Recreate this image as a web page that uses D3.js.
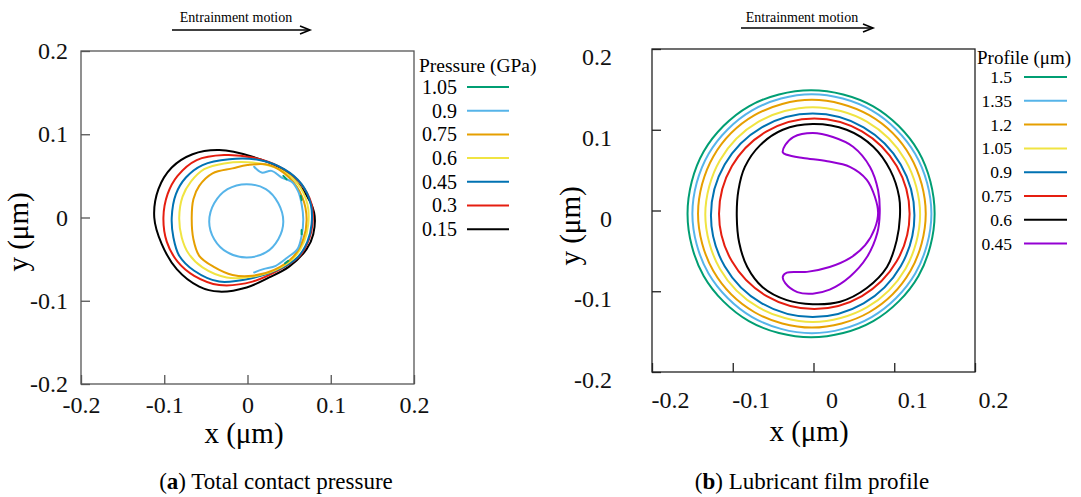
<!DOCTYPE html>
<html>
<head>
<meta charset="utf-8">
<script src="https://cdn.jsdelivr.net/npm/d3@7"></script>
<style>
  body { margin: 0; background: #fff; }
  svg { display: block; }
</style>
</head>
<body>
<svg id="chart" width="1081" height="497"></svg>
<script>
// ---- data ----
const axisTicks = [-0.2, -0.1, 0, 0.1, 0.2]

const pressureLevels = ["1.05", "0.9", "0.75", "0.6", "0.45", "0.3", "0.15"]
const profileLevels = ["1.5", "1.35", "1.2", "1.05", "0.9", "0.75", "0.6", "0.45"]

// (a) contact pressure contours, x,y in um
const p015 = [[-0.112,0.000],[-0.107,0.034],[-0.091,0.060],[-0.066,0.076],[-0.034,0.081],[0.006,0.073],[0.042,0.058],[0.066,0.034],[0.080,0.006],[0.079,-0.020],[0.071,-0.038],[0.050,-0.059],[0.026,-0.072],[-0.001,-0.084],[-0.034,-0.089],[-0.058,-0.083],[-0.085,-0.062],[-0.103,-0.032]]
const p030 = [[-0.101,0.000],[-0.096,0.028],[-0.084,0.050],[-0.061,0.069],[-0.028,0.075],[0.006,0.072],[0.038,0.061],[0.062,0.043],[0.077,0.016],[0.078,-0.008],[0.074,-0.026],[0.062,-0.047],[0.038,-0.063],[0.006,-0.077],[-0.034,-0.081],[-0.064,-0.070],[-0.084,-0.053],[-0.097,-0.029]]
const p045 = [[-0.091,0.000],[-0.086,0.028],[-0.074,0.048],[-0.054,0.063],[-0.022,0.070],[0.014,0.069],[0.044,0.058],[0.065,0.040],[0.076,0.016],[0.077,-0.008],[0.072,-0.029],[0.060,-0.048],[0.036,-0.063],[0.005,-0.073],[-0.034,-0.077],[-0.064,-0.064],[-0.082,-0.046],[-0.089,-0.024]]
const p060 = [[-0.082,0.000],[-0.078,0.025],[-0.068,0.043],[-0.052,0.058],[-0.028,0.065],[0.006,0.066],[0.038,0.058],[0.060,0.041],[0.072,0.016],[0.073,-0.008],[0.068,-0.029],[0.056,-0.048],[0.034,-0.063],[0.006,-0.071],[-0.025,-0.072],[-0.054,-0.060],[-0.071,-0.043],[-0.079,-0.024]]
const p075 = [[-0.067,0.000],[-0.065,0.022],[-0.058,0.038],[-0.042,0.053],[-0.018,0.059],[0.000,0.063],[0.026,0.063],[0.050,0.048],[0.066,0.024],[0.071,-0.002],[0.067,-0.026],[0.055,-0.047],[0.032,-0.063],[0.006,-0.070],[-0.018,-0.069],[-0.041,-0.059],[-0.058,-0.046],[-0.065,-0.026]]
const p090inner = [[0.043,-0.005],[0.037,0.017],[0.022,0.034],[-0.001,0.040],[-0.024,0.034],[-0.040,0.017],[-0.046,-0.005],[-0.040,-0.026],[-0.024,-0.042],[-0.001,-0.048],[0.022,-0.042],[0.037,-0.026]]
const p090outer = [[0.008,0.061],[0.017,0.054],[0.029,0.056],[0.041,0.048],[0.053,0.043],[0.061,0.031],[0.065,0.016],[0.067,-0.002],[0.065,-0.022],[0.060,-0.038],[0.048,-0.048],[0.034,-0.058],[0.019,-0.062],[0.008,-0.066]]
const p105a = [[0.043,0.050],[0.047,0.046]]
const p105b = [[0.064,0.026],[0.065,0.021]]
const p105c = [[0.065,-0.015],[0.065,-0.020]]
const p105d = [[0.045,-0.055],[0.049,-0.052]]

// (b) film profile contours, x,y in um
const h150 = [[0.150,-0.004],[0.130,0.073],[0.074,0.129],[-0.003,0.149],[-0.080,0.129],[-0.136,0.073],[-0.156,-0.004],[-0.136,-0.081],[-0.080,-0.137],[-0.003,-0.157],[0.074,-0.137],[0.130,-0.081]]
const h135 = [[0.146,-0.004],[0.126,0.070],[0.072,0.124],[-0.002,0.144],[-0.076,0.124],[-0.130,0.070],[-0.150,-0.004],[-0.130,-0.078],[-0.076,-0.132],[-0.002,-0.152],[0.072,-0.132],[0.126,-0.078]]
const h120 = [[0.139,-0.004],[0.120,0.067],[0.069,0.118],[-0.002,0.137],[-0.073,0.118],[-0.124,0.067],[-0.143,-0.004],[-0.124,-0.075],[-0.073,-0.126],[-0.002,-0.145],[0.069,-0.126],[0.120,-0.075]]
const h105 = [[0.132,-0.005],[0.114,0.062],[0.066,0.110],[-0.001,0.128],[-0.068,0.110],[-0.116,0.062],[-0.134,-0.005],[-0.116,-0.072],[-0.068,-0.120],[-0.001,-0.138],[0.066,-0.120],[0.114,-0.072]]
const h090 = [[0.125,-0.006],[0.108,0.057],[0.062,0.103],[-0.001,0.120],[-0.064,0.103],[-0.110,0.057],[-0.127,-0.006],[-0.110,-0.069],[-0.064,-0.115],[-0.001,-0.132],[0.062,-0.115],[0.108,-0.069]]
const h075 = [[0.119,-0.004],[0.103,0.055],[0.060,0.098],[0.001,0.114],[-0.058,0.098],[-0.101,0.055],[-0.117,-0.004],[-0.101,-0.063],[-0.058,-0.106],[0.001,-0.122],[0.060,-0.106],[0.103,-0.063]]
const h060 = [[-0.001,0.107],[0.041,0.100],[0.074,0.079],[0.095,0.050],[0.106,0.017],[0.107,-0.008],[0.103,-0.037],[0.091,-0.070],[0.066,-0.096],[0.033,-0.113],[-0.001,-0.116],[-0.033,-0.111],[-0.063,-0.095],[-0.082,-0.070],[-0.092,-0.040],[-0.095,-0.008],[-0.093,0.025],[-0.085,0.054],[-0.066,0.081],[-0.038,0.100]]
const h045 = [[-0.038,0.072],[-0.035,0.081],[-0.025,0.091],[-0.001,0.096],[0.024,0.091],[0.049,0.079],[0.070,0.054],[0.080,0.025],[0.082,-0.003],[0.079,-0.028],[0.066,-0.058],[0.045,-0.082],[0.020,-0.098],[-0.001,-0.103],[-0.020,-0.101],[-0.035,-0.090],[-0.038,-0.082],[-0.033,-0.077],[-0.008,-0.076],[0.020,-0.070],[0.045,-0.059],[0.064,-0.043],[0.076,-0.022],[0.080,-0.003],[0.076,0.017],[0.066,0.038],[0.045,0.054],[0.017,0.061],[-0.013,0.065],[-0.033,0.069]]

// colours (gnuplot-like)
const pressureColors = ["#009e73", "#56b4e9", "#e69f00", "#f0e442", "#0072b2", "#e51e10", "#000000"]
const profileColors = ["#009e73", "#56b4e9", "#e69f00", "#f0e442", "#0072b2", "#e51e10", "#000000", "#9400d3"]

const pressureCurves = [
    {level: "0.15", pts: p015, closed: true},
    {level: "0.3", pts: p030, closed: true},
    {level: "0.45", pts: p045, closed: true},
    {level: "0.6", pts: p060, closed: true},
    {level: "0.75", pts: p075, closed: true},
    {level: "0.9", pts: p090inner, closed: true},
    {level: "0.9", pts: p090outer, closed: false},
    {level: "1.05", pts: p105a, closed: false},
    {level: "1.05", pts: p105b, closed: false},
    {level: "1.05", pts: p105c, closed: false},
    {level: "1.05", pts: p105d, closed: false}
]
const profileCurves = [
    {level: "1.5", pts: h150, closed: true},
    {level: "1.35", pts: h135, closed: true},
    {level: "1.2", pts: h120, closed: true},
    {level: "1.05", pts: h105, closed: true},
    {level: "0.9", pts: h090, closed: true},
    {level: "0.75", pts: h075, closed: true},
    {level: "0.6", pts: h060, closed: true},
    {level: "0.45", pts: h045, closed: true}
]

const serif = "'Liberation Serif', 'Times New Roman', serif"
const svg = d3.select("#chart")
const fmt = d => d === 0 ? "0" : String(d)

function panel(o) {
    const x = d3.scaleLinear().domain([-0.2, 0.2]).range([o.left, o.right])
    const y = d3.scaleLinear().domain([-0.2, 0.2]).range([o.bottom, o.top])
    const g = svg.append("g")

    // box
    g.append("rect")
        .attr("x", o.left).attr("y", o.top)
        .attr("width", o.right - o.left).attr("height", o.bottom - o.top)
        .attr("fill", "none").attr("stroke", o.boxColor).attr("stroke-width", 1.3)

    let xAxis = g.append("g")
        .attr("transform", `translate(0,${o.bottom})`)
        .call(d3.axisBottom(x).tickValues(axisTicks).tickFormat(fmt)
            .tickSizeInner(-9).tickSizeOuter(0).tickPadding(o.xPad))
        .call(a => a.select(".domain").remove())
    xAxis.attr("font-family", serif).attr("font-size", 24)
    xAxis.selectAll(".tick line").attr("stroke", o.boxColor).attr("stroke-width", 1.3)
    xAxis.selectAll(".tick text").attr("fill", "#111").attr("dx", o.xShift)

    let yAxis = g.append("g")
        .attr("transform", `translate(${o.left},0)`)
        .call(d3.axisLeft(y).tickValues(axisTicks).tickFormat(fmt)
            .tickSizeInner(-9).tickSizeOuter(0).tickPadding(o.yPad))
        .call(a => a.select(".domain").remove())
    yAxis.attr("font-family", serif).attr("font-size", 24)
    yAxis.selectAll(".tick line").attr("stroke", o.boxColor).attr("stroke-width", 1.3)
    yAxis.selectAll(".tick text").attr("fill", "#111").attr("y", o.yShift)

    // axis titles
    g.append("text")
        .attr("x", o.xTitle[0]).attr("y", o.xTitle[1])
        .attr("text-anchor", "middle")
        .attr("font-family", serif).attr("font-size", 29)
        .text("x (\u03bcm)")
    g.append("text")
        .attr("transform", `translate(${o.yTitle[0]},${o.yTitle[1]}) rotate(-90)`)
        .attr("text-anchor", "middle")
        .attr("font-family", serif).attr("font-size", 29)
        .text("y (\u03bcm)")

    // contours
    const closedLine = d3.line().x(d => x(d[0])).y(d => y(d[1])).curve(d3.curveCatmullRomClosed)
    const openLine = d3.line().x(d => x(d[0])).y(d => y(d[1])).curve(d3.curveCatmullRom)
    g.selectAll("path.contour")
        .data(o.curves)
        .join("path")
        .attr("class", "contour")
        .attr("fill", "none")
        .attr("stroke", d => o.colors[o.levels.indexOf(d.level)])
        .attr("stroke-width", 2)
        .attr("stroke-linejoin", "round")
        .attr("stroke-linecap", "round")
        .attr("d", d => d.closed ? closedLine(d.pts) : openLine(d.pts))

    // legend
    const lg = o.legend
    g.append("text")
        .attr("x", lg.x).attr("y", lg.titleY)
        .attr("font-family", serif).attr("font-size", lg.titleSize)
        .text(lg.title)
    const item = g.selectAll("g.item")
        .data(o.levels)
        .join("g")
        .attr("class", "item")
        .attr("transform", (d, i) => `translate(0,${lg.y0 + i * lg.step})`)
    item.append("text")
        .attr("x", lg.labelX).attr("dy", "0.34em")
        .attr("text-anchor", "end")
        .attr("font-family", serif).attr("font-size", lg.size)
        .text(d => d)
    item.append("line")
        .attr("x1", lg.line[0]).attr("x2", lg.line[1])
        .attr("stroke", (d, i) => o.colors[i]).attr("stroke-width", 2)

    // entrainment arrow
    const ar = o.arrow
    g.append("text")
        .attr("x", (ar.x1 + ar.x2) / 2 - 5).attr("y", 22)
        .attr("text-anchor", "middle")
        .attr("font-family", serif).attr("font-size", 14)
        .text("Entrainment motion")
    g.append("line")
        .attr("x1", ar.x1).attr("x2", ar.x2).attr("y1", ar.y).attr("y2", ar.y)
        .attr("stroke", "#000").attr("stroke-width", 1.3)
    g.append("path")
        .attr("d", `M${ar.x2 - 10},${ar.y - 4}L${ar.x2},${ar.y}L${ar.x2 - 10},${ar.y + 4}`)
        .attr("fill", "none").attr("stroke", "#000").attr("stroke-width", 1.6)

    // caption
    const cap = g.append("text")
        .attr("x", o.caption[0]).attr("y", o.caption[1])
        .attr("text-anchor", "middle")
        .attr("font-family", serif).attr("font-size", 23)
    cap.append("tspan").text("(")
    cap.append("tspan").attr("font-weight", "bold").text(o.letter)
    cap.append("tspan").text(") " + o.captionText)
}

panel({
    left: 81, right: 414, top: 51, bottom: 384,
    boxColor: "#555",
    xPad: 12, yPad: 13, xShift: 0, yShift: 0,
    xTitle: [244, 443], yTitle: [28, 232],
    curves: pressureCurves, levels: pressureLevels, colors: pressureColors,
    legend: {x: 419, titleY: 72, titleSize: 19.5, title: "Pressure (GPa)",
        y0: 87, step: 23.7, labelX: 457, size: 20, line: [467, 509]},
    arrow: {x1: 172, x2: 310, y: 30},
    caption: [276, 489], letter: "a", captionText: "Total contact pressure"
})

panel({
    left: 652, right: 975, top: 49, bottom: 372,
    boxColor: "#222",
    xPad: 19, yPad: 40, xShift: 18, yShift: 8,
    xTitle: [809, 441], yTitle: [580, 226],
    curves: profileCurves, levels: profileLevels, colors: profileColors,
    legend: {x: 977, titleY: 64, titleSize: 19, title: "Profile (\u03bcm)",
        y0: 77, step: 23.8, labelX: 1012, size: 17.5, line: [1024, 1067]},
    arrow: {x1: 741, x2: 873, y: 28},
    caption: [812, 489], letter: "b", captionText: "Lubricant film profile"
})
</script>
</body>
</html>
